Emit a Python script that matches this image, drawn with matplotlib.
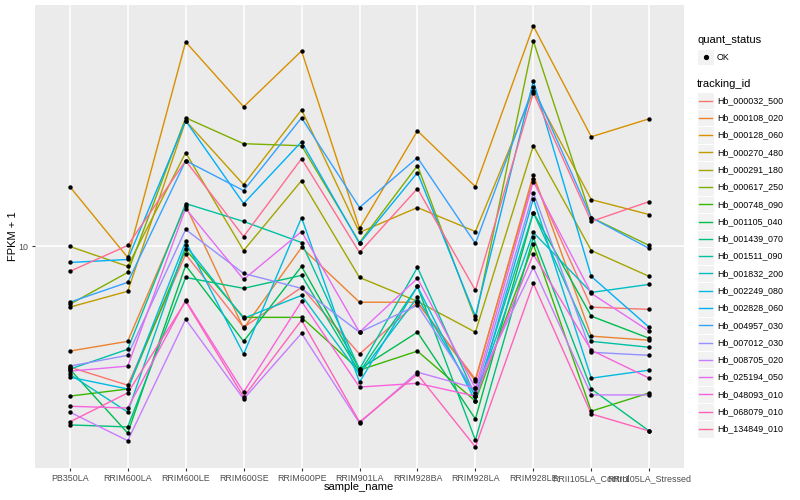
import matplotlib
matplotlib.use('Agg')
import matplotlib.pyplot as plt
from matplotlib.lines import Line2D
from matplotlib.patches import Rectangle
from matplotlib.ticker import NullLocator
import numpy as np

plt.rcParams['font.family'] = ['Liberation Sans', 'DejaVu Sans']

samples = ['PB350LA', 'RRIM600LA', 'RRIM600LE', 'RRIM600SE', 'RRIM600PE', 'RRIM901LA',
           'RRIM928BA', 'RRIM928LA', 'RRIM928LE', 'RRII105LA_Control', 'RRII105LA_Stressed']

tracking_ids = ['Hb_000032_500', 'Hb_000108_020', 'Hb_000128_060', 'Hb_000270_480',
                'Hb_000291_180', 'Hb_000617_250', 'Hb_000748_090', 'Hb_001105_040',
                'Hb_001439_070', 'Hb_001511_090', 'Hb_001832_200', 'Hb_002249_080',
                'Hb_002828_060', 'Hb_004957_030', 'Hb_007012_030', 'Hb_008705_020',
                'Hb_025194_050', 'Hb_048093_010', 'Hb_068079_010', 'Hb_134849_010']

# ggplot default hue palette for 20 levels
colors = ['#F8766D', '#EA8331', '#D89000', '#C09B00', '#A3A500', '#7CAE00', '#39B600',
          '#00BB4E', '#00BF7D', '#00C1A3', '#00BFC4', '#00BAE0', '#00B0F6', '#35A2FF',
          '#9590FF', '#C77CFF', '#E76BF3', '#FA62DB', '#FF62BC', '#FF6C91']

# FPKM + 1, one list per tracking_id, in sample order
fpkm = [
    [4.30, 3.79, 9.46, 5.68, 7.51, 4.71, 6.77, 3.95, 16.07, 6.54, 6.44],
    [4.81, 5.15, 13.31, 5.64, 9.93, 6.77, 6.77, 3.90, 16.53, 5.34, 5.19],
    [15.20, 9.26, 41.81, 26.57, 39.26, 11.34, 22.46, 15.20, 46.73, 21.54, 24.43],
    [6.54, 7.31, 24.09, 15.41, 26.02, 11.03, 13.13, 11.10, 29.70, 13.88, 12.50],
    [10.00, 8.70, 19.27, 9.72, 15.85, 8.05, 6.81, 5.49, 20.23, 9.72, 8.11],
    [6.67, 8.34, 24.60, 20.52, 20.23, 10.28, 17.60, 6.01, 42.10, 12.24, 10.07],
    [3.51, 3.69, 9.79, 6.09, 6.09, 4.21, 4.81, 3.39, 10.14, 3.16, 3.59],
    [4.24, 2.71, 8.76, 5.15, 8.70, 4.24, 5.49, 2.99, 12.68, 6.14, 5.26],
    [2.87, 2.83, 8.05, 7.46, 8.17, 4.15, 7.56, 2.58, 10.65, 3.69, 2.75],
    [4.24, 4.87, 13.50, 11.91, 10.28, 4.24, 8.64, 3.51, 12.68, 5.15, 4.94],
    [4.09, 3.14, 10.07, 6.05, 7.10, 4.09, 7.01, 3.51, 11.03, 7.25, 7.67],
    [4.01, 3.69, 10.36, 4.71, 12.24, 3.87, 7.56, 3.39, 13.98, 3.98, 4.21],
    [8.94, 9.13, 24.09, 13.50, 20.81, 10.21, 16.76, 6.14, 31.84, 8.11, 5.68],
    [6.77, 7.78, 18.22, 14.78, 24.60, 13.13, 18.61, 10.21, 30.54, 12.24, 9.86],
    [4.33, 4.67, 11.26, 8.28, 7.46, 5.49, 6.63, 3.59, 14.58, 4.77, 4.67],
    [3.14, 2.57, 6.01, 3.44, 5.45, 2.91, 4.15, 3.71, 8.64, 3.54, 3.54],
    [4.18, 4.33, 13.04, 7.94, 11.10, 5.49, 8.00, 3.71, 15.74, 7.20, 5.53],
    [3.27, 3.23, 6.86, 3.61, 6.81, 3.74, 3.84, 3.51, 9.46, 4.84, 3.98],
    [2.93, 3.59, 6.81, 3.49, 5.97, 2.93, 4.09, 2.46, 7.72, 3.10, 2.75],
    [8.40, 10.07, 18.22, 10.72, 18.48, 9.59, 14.99, 7.36, 29.29, 11.91, 13.69],
]

W, H = 800, 500
fig = plt.figure(figsize=(8, 5), dpi=100)
fig.patch.set_facecolor('white')


def fx(px):
    return px / W


def fy(py):
    return 1 - py / H


ax = fig.add_axes([fx(35), fy(468), fx(649), 463 / H])
ax.set_facecolor('#EBEBEB')
for s in ax.spines.values():
    s.set_visible(False)

x = np.arange(len(samples))
for vals, col in zip(fpkm, colors):
    ax.plot(x, vals, color=col, lw=1.0, zorder=2)
for vals in fpkm:
    ax.scatter(x, vals, s=10, color='black', marker='o', linewidths=0, zorder=3)

ax.set_yscale('log')
allv = np.log10(np.concatenate([np.array(v) for v in fpkm]))
lo, hi = allv.min(), allv.max()
pad = (hi - lo) * 0.05
ax.set_ylim(10 ** (lo - pad), 10 ** (hi + pad))
ax.set_xlim(-0.6, len(samples) - 0.4)
ax.set_yticks([10])
ax.set_yticklabels(['10'])
ax.yaxis.set_minor_locator(NullLocator())
ax.set_xticks(x)
ax.set_xticklabels(samples)
ax.grid(True, color='white', lw=1.1, zorder=0)
ax.set_axisbelow(True)
ax.tick_params(axis='both', length=2.5, width=0.8, color='#333333',
               labelsize=6.4, labelcolor='#4D4D4D', pad=2)

fig.text(fx(359), fy(487), 'sample_name', ha='center', va='center', fontsize=8, color='black')
fig.text(fx(13), fy(236), 'FPKM + 1', ha='center', va='center', rotation=90, fontsize=8,
         color='black')

# legend: quant_status
fig.text(fx(697), fy(40), 'quant_status', ha='left', va='center', fontsize=8)
fig.add_artist(Rectangle((fx(697), fy(65)), 17 / W, 16 / H, facecolor='#F2F2F2',
                         edgecolor='white', lw=0.8, transform=fig.transFigure))
fig.add_artist(Line2D([fx(705.5)], [fy(57)], marker='o', ms=2.8, color='black',
                      transform=fig.transFigure))
fig.text(fx(717), fy(57), 'OK', ha='left', va='center', fontsize=6.4)

# legend: tracking_id
fig.text(fx(697), fy(84), 'tracking_id', ha='left', va='center', fontsize=8)
step = 17.29
for i, (tid, col) in enumerate(zip(tracking_ids, colors)):
    yc = 100.5 + i * step
    fig.add_artist(Rectangle((fx(697), fy(yc + step / 2)), 17 / W, step / H,
                             facecolor='#F2F2F2', edgecolor='white', lw=0.8,
                             transform=fig.transFigure))
    fig.add_artist(Line2D([fx(699), fx(712)], [fy(yc), fy(yc)], color=col, lw=1.0,
                          transform=fig.transFigure))
    fig.text(fx(717), fy(yc), tid, ha='left', va='center', fontsize=6.4)

fig.savefig('out.png', dpi=100)
